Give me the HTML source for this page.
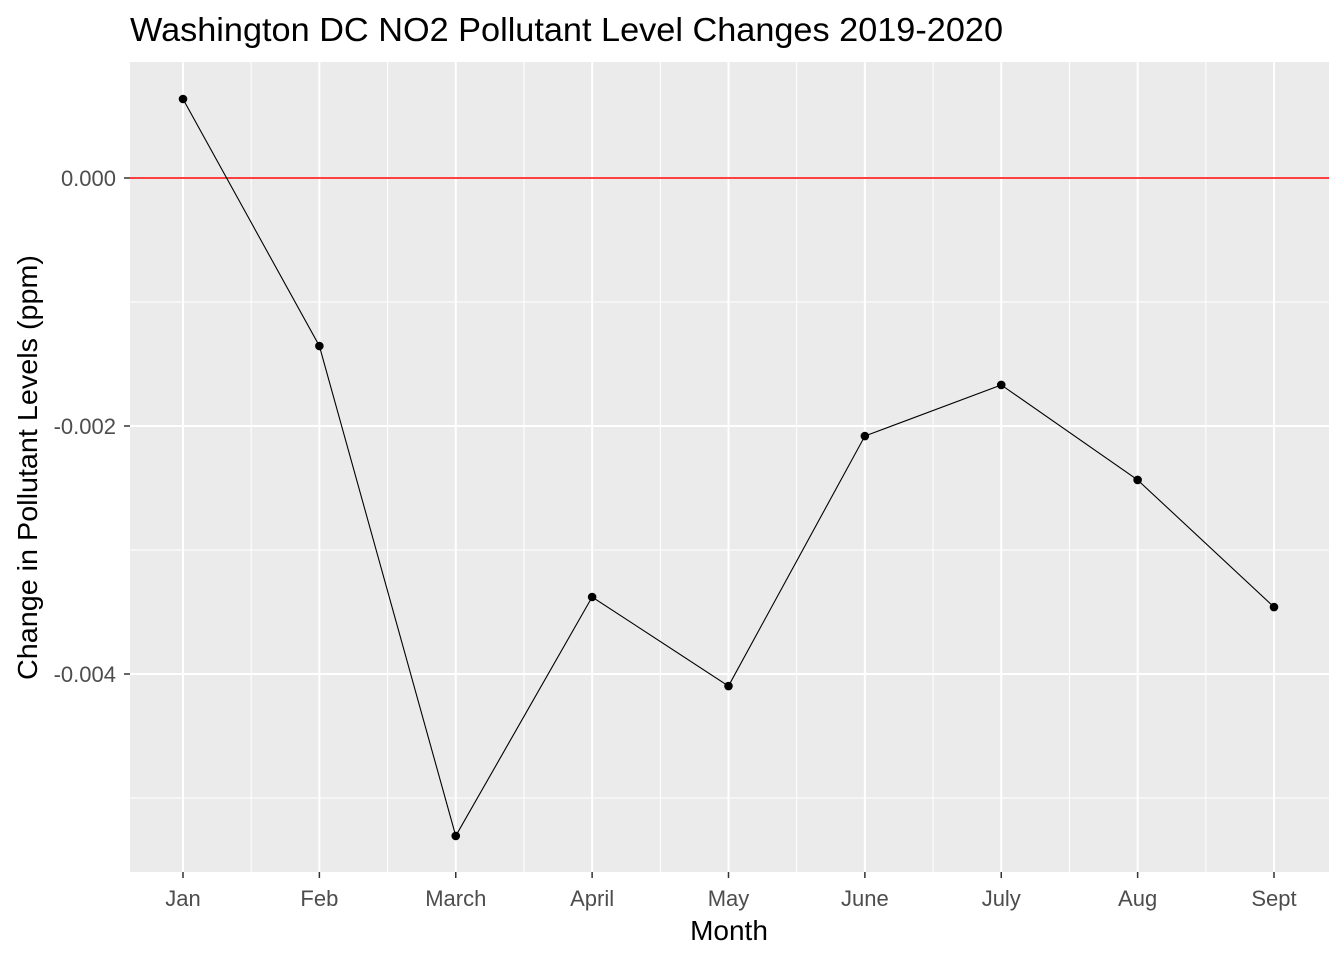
<!DOCTYPE html>
<html><head><meta charset="utf-8"><style>
body{margin:0;background:#fff;}
svg{display:block;font-family:"Liberation Sans",Arial,sans-serif;}
</style></head><body>
<svg id="chart" width="1344" height="960">
<text x="130" y="41" font-size="33" textLength="873" lengthAdjust="spacingAndGlyphs" fill="#000">Washington DC NO2 Pollutant Level Changes 2019-2020</text>
<rect x="130" y="62" width="1199" height="810" fill="#ebebeb"/>
<g id="grid"></g>
<line x1="130" x2="1329" y1="178" y2="178" stroke="#ff0000" stroke-width="1.6" id="zeroline"/>
<g id="series"></g>
<g id="axes"></g>
<text x="729" y="940" font-size="28" text-anchor="middle" fill="#000">Month</text>
<text transform="translate(37,680) rotate(-90)" font-size="28" textLength="425" lengthAdjust="spacingAndGlyphs" fill="#000">Change in Pollutant Levels (ppm)</text>
</svg>
<script>
const months = ["Jan","Feb","March","April","May","June","July","Aug","Sept"];
const values = [0.000637,-0.001355,-0.005306,-0.003379,-0.004097,-0.002081,-0.001669,-0.002435,-0.00346];
const yTicks = [0,-0.002,-0.004];
const yTickLabels = ["0.000","-0.002","-0.004"];
const yMinor = [-0.001,-0.003,-0.005];

const NS="http://www.w3.org/2000/svg";
const xScale=i=>183+i*136.375;
const yScale=v=>178-v*124000;
function mk(tag,attrs,parent){const e=document.createElementNS(NS,tag);for(const k in attrs)e.setAttribute(k,attrs[k]);parent.appendChild(e);return e;}
const grid=document.getElementById('grid'),series=document.getElementById('series'),axes=document.getElementById('axes');
yMinor.forEach(v=>{const l=mk('line',{x1:130,x2:1329,y1:yScale(v),y2:yScale(v),stroke:'#fff','stroke-width':1},grid);

});
for(let i=0;i<months.length-1;i++){const x=(xScale(i)+xScale(i+1))/2;const l=mk('line',{x1:x,x2:x,y1:62,y2:872,stroke:'#fff','stroke-width':1},grid);

}
yTicks.forEach((v,i)=>{const y=yScale(v);const l=mk('line',{x1:130,x2:1329,y1:y,y2:y,stroke:'#fff','stroke-width':2},grid);


const t=mk('line',{x1:124,x2:130,y1:y,y2:y,stroke:'#333','stroke-width':1.5},axes);


const tx=mk('text',{x:116,y:y+8,'font-size':22,'text-anchor':'end',fill:'#4d4d4d'},axes);tx.textContent=yTickLabels[i];

});
months.forEach((m,i)=>{const x=xScale(i);const l=mk('line',{x1:x,x2:x,y1:62,y2:872,stroke:'#fff','stroke-width':2},grid);


const t=mk('line',{x1:x,x2:x,y1:872,y2:878,stroke:'#333','stroke-width':1.5},axes);


const tx=mk('text',{x:x,y:906,'font-size':22,'text-anchor':'middle',fill:'#4d4d4d'},axes);tx.textContent=m;

});
const pts=values.map((v,i)=>xScale(i)+','+yScale(v)).join(' ');
const pl=mk('polyline',{points:pts,fill:'none',stroke:'#000','stroke-width':1.1},series);


values.forEach((v,i)=>{const c=mk('circle',{cx:xScale(i),cy:yScale(v),r:4.3,fill:'#000'},series);

});
</script>
</body></html>
